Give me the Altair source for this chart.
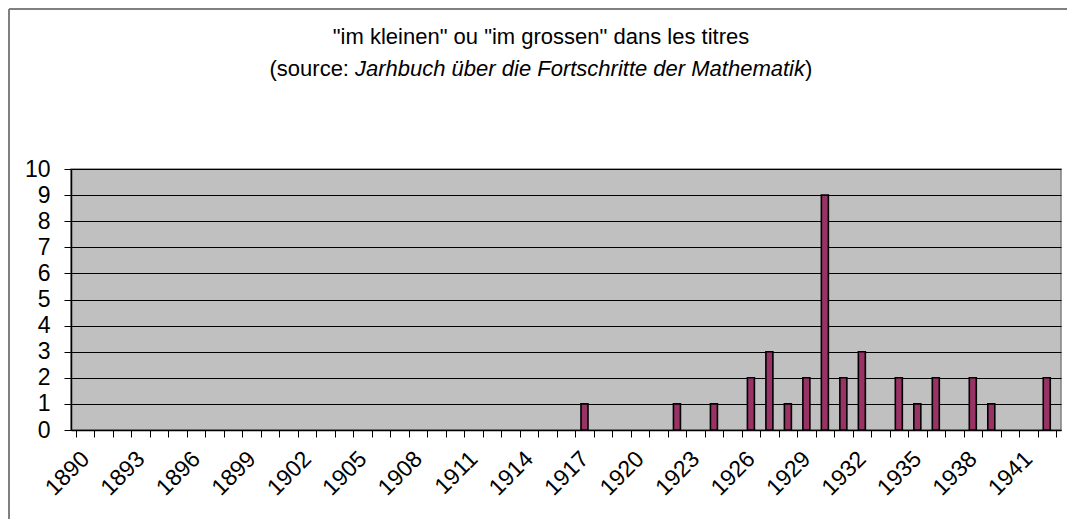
import altair as alt
import pandas as pd

# ---- data -------------------------------------------------------------
all_years = list(range(1890, 1943))
bar_years = [1917, 1922, 1924, 1926, 1927, 1928, 1929, 1930, 1931, 1932,
             1934, 1935, 1936, 1938, 1939, 1942]
bar_counts = [1, 1, 1, 2, 3, 1, 2, 9, 2, 3, 2, 1, 2, 2, 1, 2]
tick_label_years = list(range(1890, 1942, 3))
y_ticks = list(range(0, 11))

title_line1 = '"im kleinen" ou "im grossen" dans les titres'
title_line2_a = "(source:"
title_line2_b = "Jarhbuch über die Fortschritte der Mathematik"
title_line2_c = ")"

df = pd.DataFrame({"year": bar_years, "count": bar_counts})
boundaries = [y - 0.5 for y in all_years] + [all_years[-1] + 0.5]

FONT = "Liberation Sans, Arial, sans-serif"

x_scale = alt.Scale(domain=[all_years[0] - 0.5, all_years[-1] + 0.5], nice=False, zero=False)
y_scale = alt.Scale(domain=[0, 10], nice=False)

bars = alt.Chart(df).mark_bar(
    width=7, fill="#993366", stroke="black", strokeWidth=1.6
).encode(
    x=alt.X("year:Q", scale=x_scale,
            axis=alt.Axis(orient="bottom", values=boundaries, labels=False, ticks=True,
                          tickSize=7, tickColor="black", tickWidth=1,
                          domainColor="black", domainWidth=1.5, grid=False, title=None)),
    y=alt.Y("count:Q", scale=y_scale,
            axis=alt.Axis(values=y_ticks, tickSize=7, tickColor="black", grid=True,
                          gridColor="black", gridWidth=1, domainColor="black", domainWidth=1.5,
                          labelFontSize=23, labelFont=FONT, labelColor="black",
                          labelPadding=14, title=None)),
)

labels = alt.Chart(df).mark_point(opacity=0).encode(
    x=alt.X("year:Q", scale=x_scale,
            axis=alt.Axis(orient="bottom", values=tick_label_years, format="d",
                          ticks=False, domain=False, grid=False, labelAngle=-45,
                          labelAlign="right", labelBaseline="middle",
                          labelFontSize=23, labelFont=FONT, labelColor="black",
                          labelPadding=25, title=None, labelOverlap=False)),
)

one = pd.DataFrame({"k": [0]})

def txt(s, x, y, align, style="normal"):
    return alt.Chart(one).mark_text(
        text=s, align=align, baseline="alphabetic", font=FONT, fontSize=22,
        fontStyle=style, color="black"
    ).encode(x=alt.value(x), y=alt.value(y))

t1 = txt(title_line1, 470, -125, "center")
t2a = txt(title_line2_a, 278, -93, "right")
t2b = txt(title_line2_b, 284, -93, "left", "italic")
t2c = txt(title_line2_c, 734, -93, "left")

frame_left = alt.Chart(one).mark_rule(color="#808080", strokeWidth=2).encode(
    x=alt.value(-62), y=alt.value(-160), y2=alt.value(360))
frame_top = alt.Chart(one).mark_rule(color="#808080", strokeWidth=2).encode(
    x=alt.value(-62), x2=alt.value(1010), y=alt.value(-160))

chart = alt.layer(
    bars, labels, t1, t2a, t2b, t2c, frame_left, frame_top
).resolve_axis(x="independent").properties(
    width=990, height=261,
    autosize=alt.AutoSizeParams(type="none"),
    padding={"left": 63, "top": 161, "right": 6, "bottom": 89},
    background="white",
).configure_view(fill="#C0C0C0", stroke="#808080", strokeWidth=1.5)

chart.save("out.html", embed_options={"renderer": "svg", "actions": False})
